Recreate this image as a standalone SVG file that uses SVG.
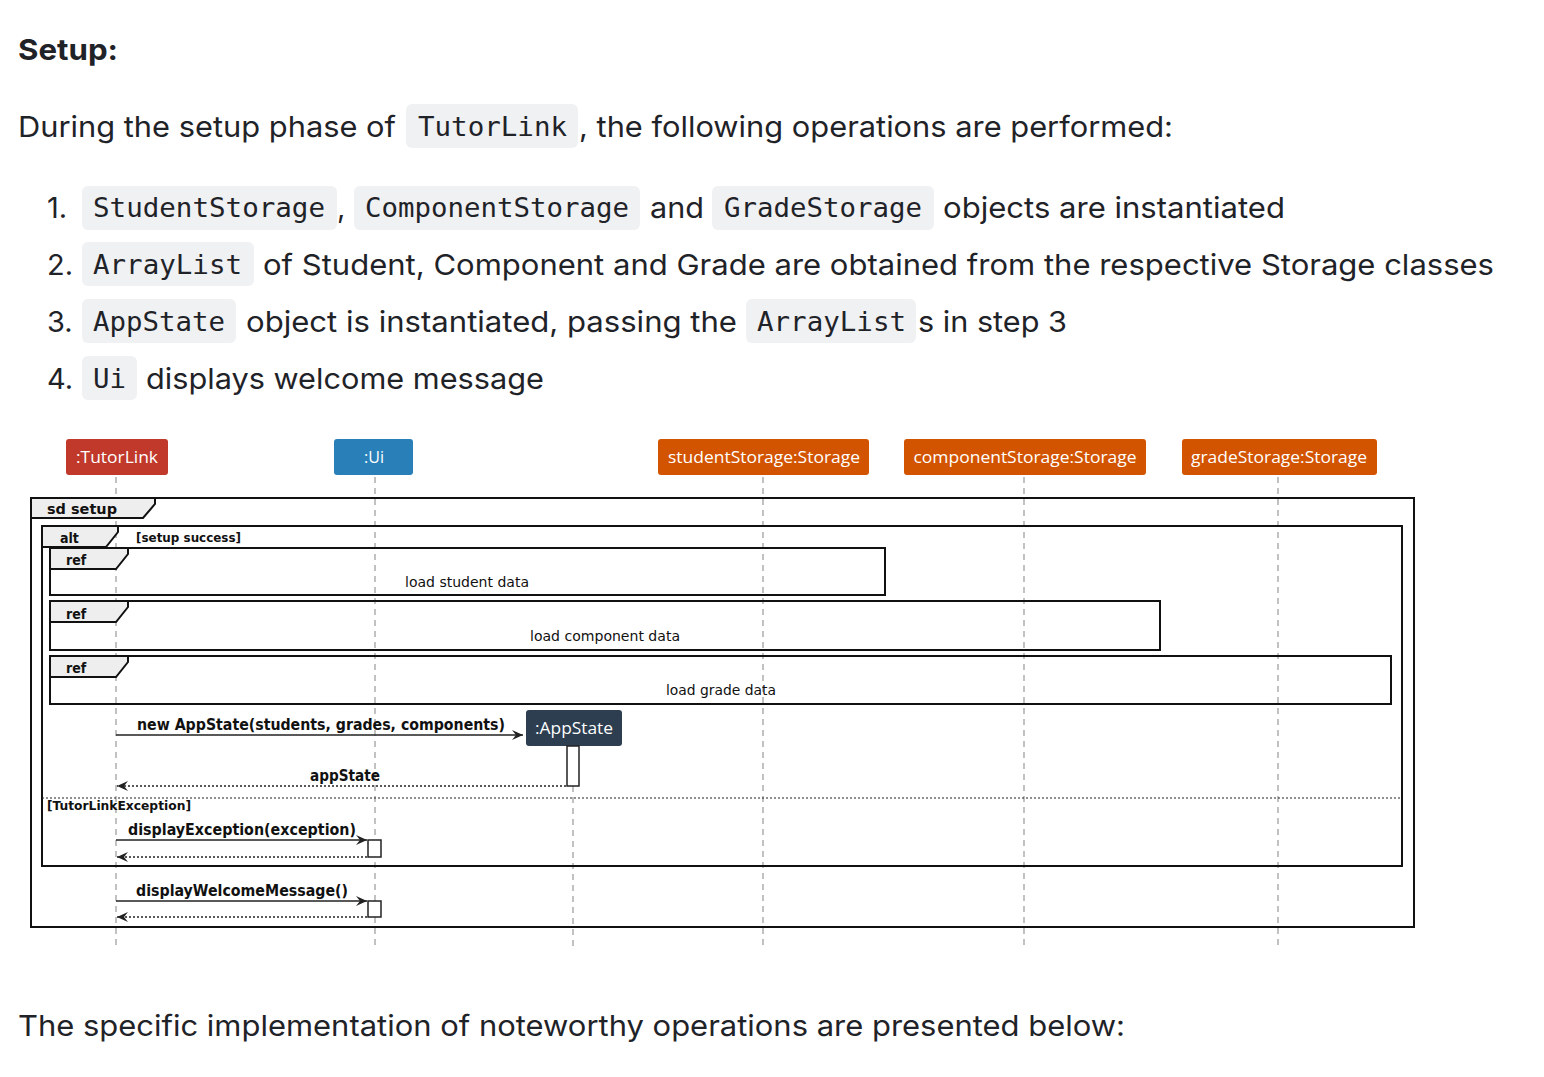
<svg xmlns="http://www.w3.org/2000/svg" width="1544" height="1077" viewBox="0 0 1544 1077">
<style>
.body{font-family:Inter,"Liberation Sans",Arial,sans-serif;font-size:29px;fill:#1f2328}
.bold{font-weight:bold}
.code{font-family:"DejaVu Sans Mono","Liberation Mono",monospace;font-size:27px;fill:#1f2328}
.cbg{fill:#eff1f3}
.ptext{font-family:"Open Sans","DejaVu Sans",sans-serif;font-size:16px;fill:#ffffff}
.life{stroke:#999;stroke-width:1.2;stroke-dasharray:6,5;fill:none}
.frame{fill:none;stroke:#111;stroke-width:2}
.tab{fill:#eeeeee;stroke:#111;stroke-width:2}
.ftxt{font-family:"DejaVu Sans",sans-serif;font-stretch:condensed;font-size:14px;font-weight:bold;fill:#111}
.ltxt{font-family:"DejaVu Sans",sans-serif;font-stretch:condensed;font-size:14px;fill:#111}
.mtxt{font-family:"DejaVu Sans",sans-serif;font-stretch:condensed;font-size:15px;font-weight:bold;fill:#111}
.small{font-family:"DejaVu Sans",sans-serif;font-stretch:condensed;font-size:12px;font-weight:bold;fill:#111}
.msg{stroke:#222;stroke-width:1.3;fill:none}
.ret{stroke:#222;stroke-width:1.3;stroke-dasharray:2,2;fill:none}
.act{fill:#fff;stroke:#222;stroke-width:1.5}
</style>
<defs>
<marker id="ah" markerUnits="userSpaceOnUse" markerWidth="14" markerHeight="12" refX="12" refY="6" orient="auto">
<path d="M1,1 L12,6 L1,11 L5,6 Z" fill="#222"/>
</marker>
</defs>
<rect width="1544" height="1077" fill="#ffffff"/>

<g id="text">
<text class="body bold" x="18" y="60" font-size="29" textLength="100" lengthAdjust="spacingAndGlyphs">Setup:</text>
<text class="body" x="18" y="137" textLength="378" lengthAdjust="spacingAndGlyphs">During the setup phase of</text>
<rect class="cbg" x="406" y="104" width="172" height="44" rx="6"/>
<text class="code" x="418" y="136" textLength="149" lengthAdjust="spacingAndGlyphs">TutorLink</text>
<text class="body" x="579" y="137" textLength="594" lengthAdjust="spacingAndGlyphs">, the following operations are performed:</text>

<text class="body" x="47" y="218">1.</text>
<rect class="cbg" x="82" y="186" width="255" height="44" rx="6"/>
<text class="code" x="93" y="217" textLength="232" lengthAdjust="spacingAndGlyphs">StudentStorage</text>
<text class="body" x="337" y="218">,</text>
<rect class="cbg" x="354" y="186" width="286" height="44" rx="6"/>
<text class="code" x="365" y="217" textLength="264" lengthAdjust="spacingAndGlyphs">ComponentStorage</text>
<text class="body" x="650" y="218" textLength="54" lengthAdjust="spacingAndGlyphs">and</text>
<rect class="cbg" x="712" y="186" width="222" height="44" rx="6"/>
<text class="code" x="724" y="217" textLength="198" lengthAdjust="spacingAndGlyphs">GradeStorage</text>
<text class="body" x="943" y="218" textLength="342" lengthAdjust="spacingAndGlyphs">objects are instantiated</text>

<text class="body" x="47" y="275">2.</text>
<rect class="cbg" x="82" y="242" width="172" height="44" rx="6"/>
<text class="code" x="93" y="274" textLength="149" lengthAdjust="spacingAndGlyphs">ArrayList</text>
<text class="body" x="263" y="275" textLength="1231" lengthAdjust="spacingAndGlyphs">of Student, Component and Grade are obtained from the respective Storage classes</text>

<text class="body" x="47" y="332">3.</text>
<rect class="cbg" x="82" y="299" width="154" height="44" rx="6"/>
<text class="code" x="93" y="331" textLength="132" lengthAdjust="spacingAndGlyphs">AppState</text>
<text class="body" x="246" y="332" textLength="491" lengthAdjust="spacingAndGlyphs">object is instantiated, passing the</text>
<rect class="cbg" x="746" y="299" width="170" height="44" rx="6"/>
<text class="code" x="757" y="331" textLength="149" lengthAdjust="spacingAndGlyphs">ArrayList</text>
<text class="body" x="918" y="332" textLength="149" lengthAdjust="spacingAndGlyphs">s in step 3</text>

<text class="body" x="47" y="389">4.</text>
<rect class="cbg" x="82" y="356" width="55" height="44" rx="6"/>
<text class="code" x="93" y="388" textLength="33" lengthAdjust="spacingAndGlyphs">Ui</text>
<text class="body" x="146" y="389" textLength="398" lengthAdjust="spacingAndGlyphs">displays welcome message</text>

<text class="body" x="18" y="1036" textLength="1107" lengthAdjust="spacingAndGlyphs">The specific implementation of noteworthy operations are presented below:</text>
</g>

<g id="lifelines">
<line class="life" x1="116" y1="477" x2="116" y2="945"/>
<line class="life" x1="375" y1="477" x2="375" y2="945"/>
<line class="life" x1="763" y1="477" x2="763" y2="945"/>
<line class="life" x1="1024" y1="477" x2="1024" y2="945"/>
<line class="life" x1="1278" y1="477" x2="1278" y2="945"/>
<line class="life" x1="573" y1="786" x2="573" y2="948"/>
</g>

<g id="participants">
<g id="p-tutorlink"><rect x="66" y="439" width="102" height="36" rx="3" fill="#c0392b"/><text class="ptext" x="117" y="463" text-anchor="middle" textLength="82" lengthAdjust="spacingAndGlyphs">:TutorLink</text></g>
<g id="p-ui"><rect x="334" y="439" width="79" height="36" rx="3" fill="#2980b9"/><text class="ptext" x="374" y="463" text-anchor="middle">:Ui</text></g>
<g id="p-student"><rect x="658" y="439" width="211" height="36" rx="3" fill="#d35400"/><text class="ptext" x="764" y="463" text-anchor="middle" textLength="192" lengthAdjust="spacingAndGlyphs">studentStorage:Storage</text></g>
<g id="p-component"><rect x="904" y="439" width="242" height="36" rx="3" fill="#d35400"/><text class="ptext" x="1025" y="463" text-anchor="middle" textLength="223" lengthAdjust="spacingAndGlyphs">componentStorage:Storage</text></g>
<g id="p-grade"><rect x="1182" y="439" width="195" height="36" rx="3" fill="#d35400"/><text class="ptext" x="1279" y="463" text-anchor="middle" textLength="176" lengthAdjust="spacingAndGlyphs">gradeStorage:Storage</text></g>
</g>

<g id="frames">
<rect class="frame" x="31" y="498" width="1383" height="429"/>
<path class="tab" d="M31,498 H155 V504 L143,518 H31 Z"/>
<text class="ftxt" x="47" y="514" textLength="70" lengthAdjust="spacingAndGlyphs">sd setup</text>

<rect class="frame" x="42" y="526" width="1360" height="340"/>
<path class="tab" d="M42,526 H118 V532 L106,547 H42 Z"/>
<text class="ftxt" x="60" y="543">alt</text>
<text class="small" x="136" y="542" textLength="105" lengthAdjust="spacingAndGlyphs">[setup success]</text>
<line x1="42" y1="798" x2="1402" y2="798" stroke="#222" stroke-width="1.2" stroke-dasharray="2,2"/>
<text class="small" x="47" y="810" textLength="144" lengthAdjust="spacingAndGlyphs">[TutorLinkException]</text>

<g id="ref-student">
<rect class="frame" x="50" y="548" width="835" height="47"/>
<path class="tab" d="M50,548 H128 V554 L116,569 H50 Z"/>
<text class="ftxt" x="66" y="565">ref</text>
<text class="ltxt" x="405" y="587" textLength="124" lengthAdjust="spacingAndGlyphs">load student data</text>
</g>
<g id="ref-component">
<rect class="frame" x="50" y="601" width="1110" height="49"/>
<path class="tab" d="M50,601 H128 V607 L116,622 H50 Z"/>
<text class="ftxt" x="66" y="619">ref</text>
<text class="ltxt" x="530" y="641" textLength="150" lengthAdjust="spacingAndGlyphs">load component data</text>
</g>
<g id="ref-grade">
<rect class="frame" x="50" y="656" width="1341" height="48"/>
<path class="tab" d="M50,656 H128 V662 L116,677 H50 Z"/>
<text class="ftxt" x="66" y="673">ref</text>
<text class="ltxt" x="666" y="695" textLength="110" lengthAdjust="spacingAndGlyphs">load grade data</text>
</g>
</g>

<g id="p-appstate">
<rect x="526" y="710" width="96" height="36" rx="3" fill="#2c3e50"/>
<text class="ptext" x="574" y="734" text-anchor="middle" textLength="78" lengthAdjust="spacingAndGlyphs">:AppState</text>
<rect class="act" x="567" y="746" width="12" height="40"/>
</g>

<g id="activations">
<rect class="act" x="368" y="840" width="13" height="17"/>
<rect class="act" x="368" y="901" width="13" height="16"/>
</g>

<g id="connectors">
<line class="msg" x1="116" y1="735" x2="523" y2="735" marker-end="url(#ah)"/>
<text class="mtxt" x="137" y="730" textLength="368" lengthAdjust="spacingAndGlyphs">new AppState(students, grades, components)</text>
<line class="ret" x1="566" y1="786" x2="117" y2="786" marker-end="url(#ah)"/>
<text class="mtxt" x="310" y="781" textLength="70" lengthAdjust="spacingAndGlyphs">appState</text>
<line class="msg" x1="116" y1="840" x2="367" y2="840" marker-end="url(#ah)"/>
<text class="mtxt" x="128" y="835" textLength="228" lengthAdjust="spacingAndGlyphs">displayException(exception)</text>
<line class="ret" x1="367" y1="857" x2="117" y2="857" marker-end="url(#ah)"/>
<line class="msg" x1="116" y1="901" x2="367" y2="901" marker-end="url(#ah)"/>
<text class="mtxt" x="136" y="896" textLength="212" lengthAdjust="spacingAndGlyphs">displayWelcomeMessage()</text>
<line class="ret" x1="367" y1="917" x2="117" y2="917" marker-end="url(#ah)"/>
</g>
</svg>
